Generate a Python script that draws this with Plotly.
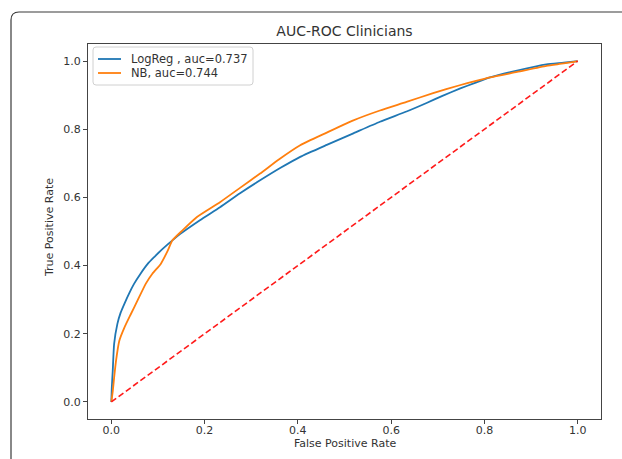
import plotly.graph_objects as go

# ---- data ----
logreg_fpr = [0, 0.001, 0.003, 0.006, 0.013, 0.02, 0.028, 0.038, 0.049, 0.063, 0.078, 0.092,
              0.106, 0.131, 0.148, 0.19, 0.233, 0.276, 0.319, 0.362, 0.405, 0.462, 0.519,
              0.576, 0.633, 0.676, 0.71, 0.747, 0.78, 0.812, 0.87, 0.933, 0.97, 1.0]
logreg_tpr = [0, 0.04, 0.09, 0.17, 0.229, 0.262, 0.288, 0.318, 0.347, 0.377, 0.405, 0.425,
              0.444, 0.474, 0.493, 0.533, 0.571, 0.612, 0.65, 0.686, 0.719, 0.754, 0.788,
              0.822, 0.852, 0.877, 0.898, 0.919, 0.936, 0.952, 0.972, 0.99, 0.995, 1.0]
nb_fpr = [0, 0.003, 0.006, 0.010, 0.017, 0.028, 0.042, 0.056, 0.074, 0.088, 0.106, 0.121,
          0.131, 0.15, 0.183, 0.233, 0.276, 0.319, 0.36, 0.405, 0.462, 0.519, 0.576, 0.633,
          0.69, 0.747, 0.78, 0.812, 0.87, 0.933, 0.97, 1.0]
nb_tpr = [0, 0.03, 0.071, 0.12, 0.179, 0.218, 0.258, 0.297, 0.347, 0.376, 0.405, 0.444,
          0.474, 0.50, 0.542, 0.586, 0.628, 0.67, 0.712, 0.753, 0.79, 0.826, 0.855, 0.88,
          0.906, 0.929, 0.941, 0.952, 0.968, 0.986, 0.993, 1.0]
chance_x = [0, 1]
chance_y = [0, 1]
series_names = ["LogReg , auc=0.737", "NB, auc=0.744"]
series_colors = ["#1f77b4", "#ff7f0e"]
tick_vals = [0.0, 0.2, 0.4, 0.6, 0.8, 1.0]
tick_text = ["0.0", "0.2", "0.4", "0.6", "0.8", "1.0"]
title_text = "AUC-ROC Clinicians"
x_label = "False Positive Rate"
y_label = "True Positive Rate"

# ---- layout geometry (pixels) ----
W, H = 622, 459
L, R, T, B = 88, 601, 44, 419
FONT = "DejaVu Sans"
TXT = "#333333"

def px2x(px):
    return (px - L) / (R - L)

def py2y(py):
    return (B - py) / (B - T)

fig = go.Figure()
series = [(logreg_fpr, logreg_tpr), (nb_fpr, nb_tpr)]
for (xs, ys), name, col in zip(series, series_names, series_colors):
    fig.add_trace(go.Scatter(x=xs, y=ys, mode="lines", name=name, showlegend=False,
                             line=dict(color=col, width=1.8, shape="spline", smoothing=0.5)))
fig.add_trace(go.Scatter(x=chance_x, y=chance_y, mode="lines", showlegend=False,
                         line=dict(color="#ff1a1a", width=1.6, dash="6px,3px")))

# outer rounded frame (top-left corner)
fx, fy, rad = 11, 12, 8
path = (f"M {px2x(fx)},{py2y(H)} L {px2x(fx)},{py2y(fy + rad)} "
        f"Q {px2x(fx)},{py2y(fy)} {px2x(fx + rad)},{py2y(fy)} L {px2x(W)},{py2y(fy)}")
fig.add_shape(type="path", path=path, xref="paper", yref="paper",
              line=dict(color="#3a3a3a", width=1.2))

# legend box (matplotlib style)
lx0, ly0, lx1, ly1, lr = 93, 47, 253, 85, 3
lpath = (f"M {px2x(lx0 + lr)},{py2y(ly0)} L {px2x(lx1 - lr)},{py2y(ly0)} "
         f"Q {px2x(lx1)},{py2y(ly0)} {px2x(lx1)},{py2y(ly0 + lr)} "
         f"L {px2x(lx1)},{py2y(ly1 - lr)} Q {px2x(lx1)},{py2y(ly1)} {px2x(lx1 - lr)},{py2y(ly1)} "
         f"L {px2x(lx0 + lr)},{py2y(ly1)} Q {px2x(lx0)},{py2y(ly1)} {px2x(lx0)},{py2y(ly1 - lr)} "
         f"L {px2x(lx0)},{py2y(ly0 + lr)} Q {px2x(lx0)},{py2y(ly0)} {px2x(lx0 + lr)},{py2y(ly0)} Z")
fig.add_shape(type="path", path=lpath, xref="paper", yref="paper",
              fillcolor="rgba(255,255,255,0.9)", line=dict(color="#d0d0d0", width=1))
row_y = [59, 73]
for ry, name, col in zip(row_y, series_names, series_colors):
    fig.add_shape(type="line", xref="paper", yref="paper",
                  x0=px2x(98), x1=px2x(121), y0=py2y(ry), y1=py2y(ry),
                  line=dict(color=col, width=1.8))
    fig.add_annotation(text=name, xref="paper", yref="paper", x=px2x(129), y=py2y(ry),
                       showarrow=False, xanchor="left", yanchor="middle",
                       font=dict(family=FONT, size=11.5, color=TXT))

axis_common = dict(
    showgrid=False, zeroline=False, showline=True, mirror=True,
    linecolor="#444444", linewidth=1.2, ticks="outside", ticklen=4,
    tickcolor="#444444", tickwidth=1, tickvals=tick_vals, ticktext=tick_text,
    tickfont=dict(family=FONT, size=11, color=TXT),
)
fig.update_xaxes(range=[-0.05, 1.05], ticklabelstandoff=-3, **axis_common)
fig.update_yaxes(range=[-0.05, 1.05], **axis_common)

fig.add_annotation(text=x_label, xref="paper", yref="paper", x=px2x(344.5), y=py2y(443),
                   showarrow=False, xanchor="center", yanchor="middle",
                   font=dict(family=FONT, size=11, color=TXT))
fig.add_annotation(text=y_label, xref="paper", yref="paper", x=px2x(49), y=py2y(228),
                   showarrow=False, xanchor="center", yanchor="middle", textangle=-90,
                   font=dict(family=FONT, size=11, color=TXT))

fig.update_layout(
    width=W, height=H,
    margin=dict(l=L, r=W - R, t=T, b=H - B),
    paper_bgcolor="white", plot_bgcolor="white",
    title=dict(text=title_text, x=0.5, xref="paper", y=1 - 31 / H, yref="container",
               xanchor="center", yanchor="middle",
               font=dict(family=FONT, size=14, color=TXT)),
    showlegend=False,
)

fig.write_html("out.html")
